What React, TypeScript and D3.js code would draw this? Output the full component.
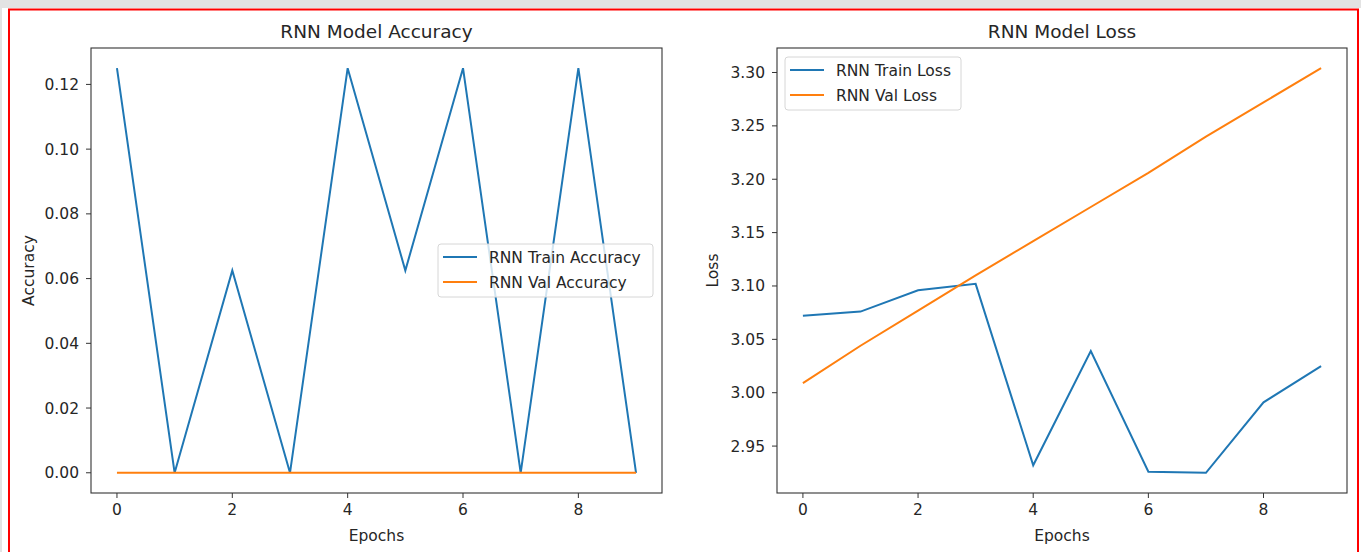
import React from 'react';
import * as d3 from 'd3';

// values
const epochs = [0, 1, 2, 3, 4, 5, 6, 7, 8, 9];
const trainAcc = [0.125, 0, 0.0625, 0, 0.125, 0.0625, 0.125, 0, 0.125, 0];
const valAcc = [0, 0, 0, 0, 0, 0, 0, 0, 0, 0];
const trainLoss = [3.072, 3.076, 3.096, 3.102, 2.932, 3.039, 2.926, 2.925, 2.991, 3.025];
const valLoss = [3.009, 3.044, 3.077, 3.110, 3.142, 3.174, 3.206, 3.240, 3.272, 3.304];
const accTicks = [0, 0.02, 0.04, 0.06, 0.08, 0.1, 0.12];
const lossTicks = [2.95, 3.0, 3.05, 3.1, 3.15, 3.2, 3.25, 3.3];
const xTicks = [0, 2, 4, 6, 8];

const BLUE = '#1f77b4';
const ORANGE = '#ff7f0e';
const FONT = 'DejaVu Sans, sans-serif';

type PanelProps = {
  left: number;
  right: number;
  title: string;
  ylabel: string;
  yTicks: number[];
  yFmt: (v: number) => string;
  series: { name: string; values: number[]; color: string }[];
  legend: { x: number; y: number; w: number };
  ylabelX: number;
};

const Panel = ({ left, right, title, ylabel, yTicks, yFmt, series, legend, ylabelX }: PanelProps) => {
  const top = 48, bottom = 493;
  const all = series.flatMap(s => s.values);
  const [mn, mx] = d3.extent(all) as [number, number];
  const pad = (mx - mn) * 0.05;
  const x = d3.scaleLinear().domain([-0.45, 9.45]).range([left, right]);
  const y = d3.scaleLinear().domain([mn - pad, mx + pad]).range([bottom, top]);
  const line = (vals: number[]) =>
    d3.line<number>().x((_, i) => x(epochs[i])).y(d => y(d))(vals) || '';
  const cx = (left + right) / 2;
  return (
    <g fontFamily={FONT} fill="#262626">
      <text x={cx} y={38} textAnchor="middle" fontSize={18.5}>{title}</text>
      {series.map(s => (
        <path key={s.name} d={line(s.values)} fill="none" stroke={s.color} strokeWidth={2} />
      ))}
      <rect x={left} y={top} width={right - left} height={bottom - top} fill="none" stroke="#333" strokeWidth={1.1} />
      {xTicks.map(t => (
        <g key={t}>
          <line x1={x(t)} x2={x(t)} y1={bottom} y2={bottom + 5} stroke="#333" />
          <text x={x(t)} y={bottom + 22} textAnchor="middle" fontSize={15.5}>{t}</text>
        </g>
      ))}
      {yTicks.map(t => (
        <g key={t}>
          <line x1={left - 5} x2={left} y1={y(t)} y2={y(t)} stroke="#333" />
          <text x={left - 12} y={y(t) + 5.5} textAnchor="end" fontSize={15.5}>{yFmt(t)}</text>
        </g>
      ))}
      <text x={cx} y={541} textAnchor="middle" fontSize={15.5}>Epochs</text>
      <text transform={`translate(${ylabelX},${(top + bottom) / 2}) rotate(-90)`} textAnchor="middle" fontSize={15.5}>{ylabel}</text>
      <rect x={legend.x} y={legend.y} width={legend.w} height={53} rx={3} fill="white" fillOpacity={0.8} stroke="#d6d6d6" />
      {series.map((s, i) => (
        <g key={s.name}>
          <line x1={legend.x + 5} x2={legend.x + 39} y1={legend.y + 13 + i * 25} y2={legend.y + 13 + i * 25} stroke={s.color} strokeWidth={2} />
          <text x={legend.x + 51} y={legend.y + 18.5 + i * 25} fontSize={15.5}>{s.name}</text>
        </g>
      ))}
    </g>
  );
};

export default function App() {
  return (
    <svg width={1361} height={552} style={{ position: 'absolute', left: 0, top: 0 }}>
      <rect x={0} y={0} width={1361} height={552} fill="#e3e3e3" />
      <rect x={2} y={8} width={1359} height={544} fill="white" />
      <rect x={9} y={9.5} width={1349} height={560} fill="none" stroke="#ff0000" strokeWidth={2} />
      <Panel
        left={91}
        right={662}
        title="RNN Model Accuracy"
        ylabel="Accuracy"
        yTicks={accTicks}
        yFmt={d3.format('.2f')}
        series={[
          { name: 'RNN Train Accuracy', values: trainAcc, color: BLUE },
          { name: 'RNN Val Accuracy', values: valAcc, color: ORANGE },
        ]}
        legend={{ x: 438, y: 244, w: 215 }}
        ylabelX={34}
      />
      <Panel
        left={777}
        right={1347}
        title="RNN Model Loss"
        ylabel="Loss"
        yTicks={lossTicks}
        yFmt={d3.format('.2f')}
        series={[
          { name: 'RNN Train Loss', values: trainLoss, color: BLUE },
          { name: 'RNN Val Loss', values: valLoss, color: ORANGE },
        ]}
        legend={{ x: 785, y: 57, w: 176 }}
        ylabelX={718}
      />
    </svg>
  );
}
